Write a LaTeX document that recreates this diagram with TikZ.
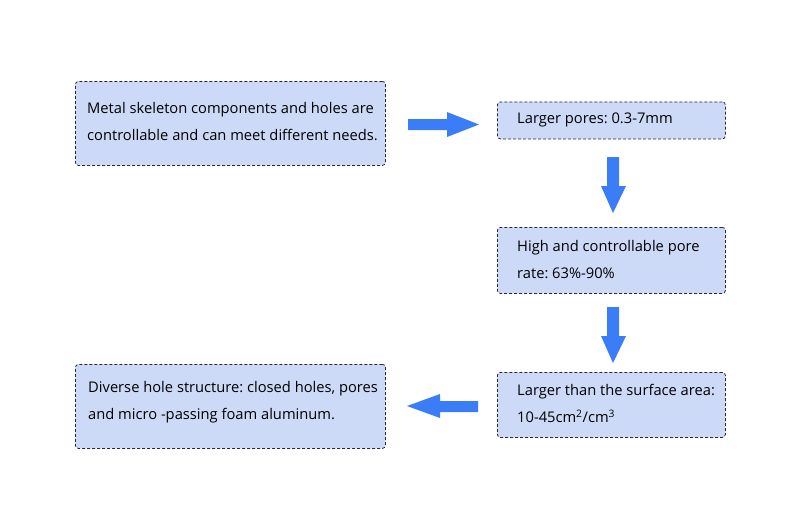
\documentclass[tikz,border=0pt]{standalone}
\usepackage{fontspec}
\setmainfont{Open Sans}
\frenchspacing
\definecolor{boxfill}{RGB}{204,218,248}
\definecolor{arrowblue}{RGB}{59,125,246}
\definecolor{boxline}{RGB}{40,40,50}
\begin{document}
\begin{tikzpicture}[x=1pt,y=-1pt,
  infobox/.style={draw=boxline, fill=boxfill, line width=0.8pt,
    dash pattern=on 3pt off 2pt, rounded corners=3pt, anchor=north west,
    inner sep=0pt},
  boxtext/.style={anchor=west, align=left, inner sep=0pt,
    font=\fontsize{14.7}{27}\selectfont},
  blockarrow/.style={fill=arrowblue}]
\useasboundingbox (0,0) rectangle (800,530);
% boxes
\node[infobox, minimum width=310pt, minimum height=84pt] (b1) at (75,81) {};
\node[boxtext] (t1) at ([xshift=12pt,yshift=1.5pt]b1.west)
  {Metal skeleton components and holes are\\controllable and can meet different needs.};
\node[infobox, minimum width=228pt, minimum height=37pt] (b2) at (497,101.5) {};
\node[boxtext] (t2) at ([xshift=20pt]b2.west) {Larger pores: 0.3-7mm};
\node[infobox, minimum width=228pt, minimum height=66pt] (b3) at (497,227) {};
\node[boxtext] (t3) at ([xshift=20pt,yshift=1pt]b3.west)
  {High and controllable pore\\rate: 63\%-90\%};
\node[infobox, minimum width=228pt, minimum height=65pt] (b4) at (497,372) {};
\node[boxtext] (t4) at ([xshift=20pt,yshift=1pt]b4.west)
  {Larger than the surface area:\\10-45cm\textsuperscript{2}/cm\textsuperscript{3}};
\node[infobox, minimum width=310pt, minimum height=84pt] (b5) at (75,364) {};
\node[boxtext] (t5) at ([xshift=13pt,yshift=4pt]b5.west)
  {Diverse hole structure: closed holes, pores\\and micro -passing foam aluminum.};
% block arrows
\fill[blockarrow] (408,119) -- (447,119) -- (447,112) -- (479,124.5) -- (447,137) -- (447,130) -- (408,130) -- cycle;
\fill[blockarrow] (607,157) -- (619,157) -- (619,186) -- (626,186) -- (613,213) -- (601,186) -- (607,186) -- cycle;
\fill[blockarrow] (607,307) -- (619,307) -- (619,336) -- (626,336) -- (613,363) -- (601,336) -- (607,336) -- cycle;
\fill[blockarrow] (478,401) -- (440,401) -- (440,394) -- (407,406) -- (440,418) -- (440,412) -- (478,412) -- cycle;
\end{tikzpicture}
\end{document}
